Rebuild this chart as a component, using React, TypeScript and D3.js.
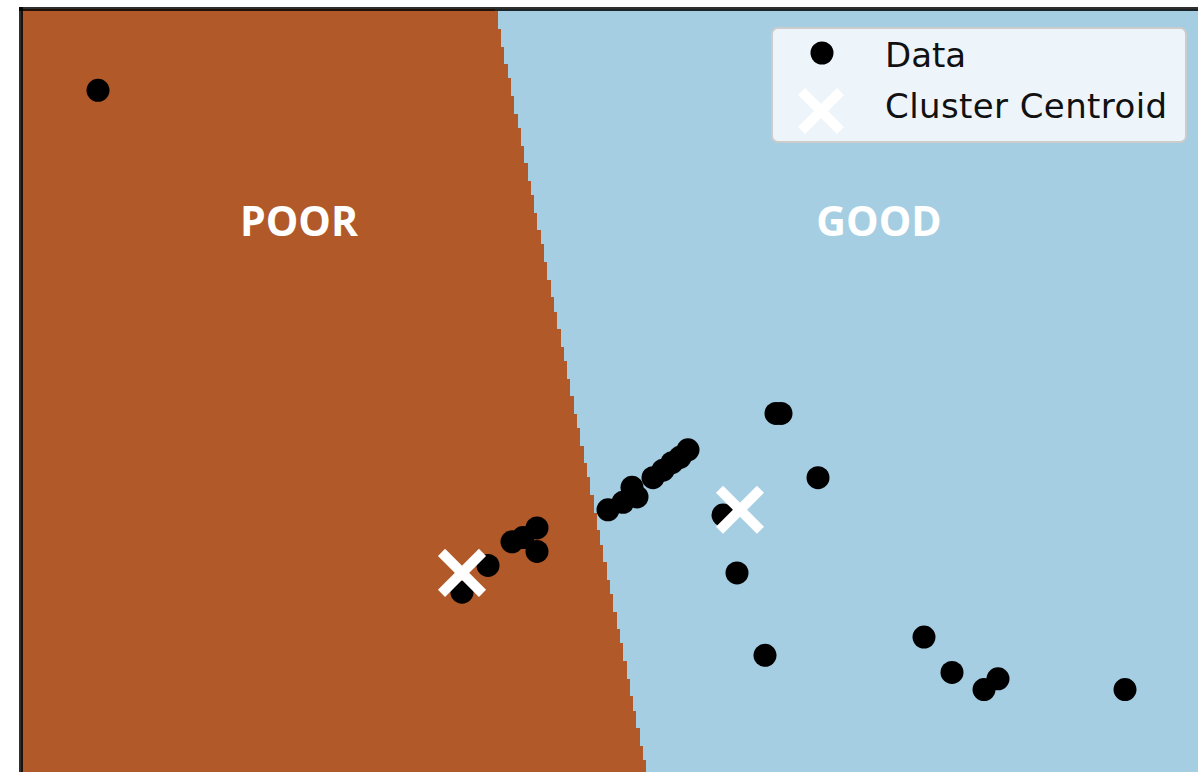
import React, { useMemo } from "react";
import * as d3 from "d3";

// Observations (two features after scaling)
const featureA = [
  0.77, 4.41, 4.67, 4.91, 5.02, 5.16, 5.16, 5.87, 6.02, 6.11, 6.16, 6.32, 6.42, 6.51,
  6.59, 6.67, 7.02, 7.55, 7.6, 7.97, 7.16, 7.44, 9.03, 9.31, 9.77, 9.63, 11.04,
];
const featureB = [
  6.44, 1.75, 2.0, 2.22, 2.26, 2.35, 2.13, 2.52, 2.59, 2.73, 2.64, 2.82, 2.89, 2.96,
  3.01, 3.08, 2.47, 3.42, 3.42, 2.82, 1.93, 1.16, 1.33, 1.0, 0.94, 0.84, 0.84,
];

// k-means result
const clusterNames = ["POOR", "GOOD"];
const centroidA = [4.41, 7.19];
const centroidB = [1.93, 2.52];
const regionColors = ["#b15928", "#a6cee3"];

const legendLabels = ["Data", "Cluster Centroid"];

const W = 1198;
const H = 772;
const STEP = 0.033;

export default function App() {
  const xScale = d3.scaleLinear().domain([0, 11.8]).range([21, 1201]);
  const yScale = d3.scaleLinear().domain([0, 7.2]).range([779.4, 9]);

  const nearest = (a: number, b: number) =>
    d3.minIndex(centroidA, (ca, i) => (ca - a) ** 2 + (centroidB[i] - b) ** 2);

  // Decision regions on a mesh grid, merged into horizontal runs per row
  const cells = useMemo(() => {
    const out: { x: number; y: number; w: number; h: number; k: number }[] = [];
    const xs = d3.range(0, 11.8 + STEP, STEP);
    const ys = d3.range(0, 7.2 + STEP, STEP);
    for (const yv of ys) {
      let start = 0;
      let cur = nearest(xs[0], yv);
      for (let i = 1; i <= xs.length; i++) {
        const k = i < xs.length ? nearest(xs[i], yv) : -1;
        if (k !== cur) {
          const x0 = xScale(xs[start] - STEP / 2);
          const x1 = xScale(xs[i - 1] + STEP / 2);
          const y0 = yScale(yv + STEP / 2);
          const y1 = yScale(yv - STEP / 2);
          out.push({ x: x0, y: y0, w: x1 - x0, h: y1 - y0, k: cur });
          start = i;
          cur = k;
        }
      }
    }
    return out;
  }, []);

  const cross = (cx: number, cy: number, a: number, key: string) => (
    <g key={key} stroke="#ffffff" strokeWidth={10}>
      <line x1={cx - a} y1={cy - a} x2={cx + a} y2={cy + a} />
      <line x1={cx - a} y1={cy + a} x2={cx + a} y2={cy - a} />
    </g>
  );

  const labelPos = [
    { x: xScale(2.78), y: yScale(5.08) },
    { x: xScale(8.58), y: yScale(5.08) },
  ];

  return (
    <svg
      width={W}
      height={H}
      style={{ position: "absolute", left: 0, top: 0, display: "block", background: "#fff" }}
    >
      <defs>
        <clipPath id="plot-area">
          <rect x={21} y={9} width={W} height={H} />
        </clipPath>
      </defs>
      <g clipPath="url(#plot-area)">
        <g shapeRendering="crispEdges">
          {cells.map((c, i) => (
            <rect key={i} x={c.x} y={c.y} width={c.w} height={c.h} fill={regionColors[c.k]} />
          ))}
        </g>
        {featureA.map((a, i) => (
          <circle key={i} cx={xScale(a)} cy={yScale(featureB[i])} r={11.5} fill="#000" />
        ))}
        {centroidA.map((a, i) => cross(xScale(a), yScale(centroidB[i]), 20.5, "c" + i))}
        {clusterNames.map((n, i) => (
          <text
            key={n}
            x={labelPos[i].x}
            y={labelPos[i].y}
            textAnchor="middle"
            fill="#ffffff"
            fontFamily="'Open Sans', sans-serif"
            fontWeight={700}
            fontSize={41}
          >
            {n}
          </text>
        ))}
      </g>

      {/* legend */}
      <g>
        <rect
          x={772}
          y={28}
          width={414}
          height={114}
          rx={6}
          fill="#ffffff"
          fillOpacity={0.8}
          stroke="#cccccc"
          strokeWidth={2}
        />
        <circle cx={822} cy={53} r={11.5} fill="#000" />
        {cross(821, 111, 19.5, "legend-x")}
        {legendLabels.map((t, i) => (
          <text
            key={t}
            x={885}
            y={67 + i * 51}
            fontFamily="'DejaVu Sans', sans-serif"
            fontSize={34}
            letterSpacing={i === 1 ? 0.4 : 0}
            fill="#111"
          >
            {t}
          </text>
        ))}
      </g>

      {/* spines */}
      <line x1={21} y1={7} x2={21} y2={H} stroke="#000" strokeOpacity={0.82} strokeWidth={4} />
      <line x1={19} y1={9} x2={W} y2={9} stroke="#000" strokeOpacity={0.82} strokeWidth={4} />
    </svg>
  );
}
